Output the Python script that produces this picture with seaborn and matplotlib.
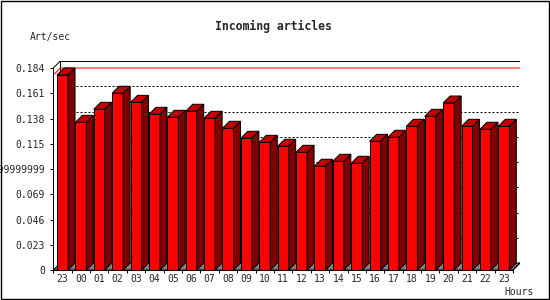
import numpy as np
import pandas as pd
import matplotlib
matplotlib.use("Agg")
import matplotlib.pyplot as plt
from matplotlib.patches import Polygon, Rectangle
import seaborn as sns

# ---- data ----
hours = ["23", "00", "01", "02", "03", "04", "05", "06", "07", "08", "09", "10",
         "11", "12", "13", "14", "15", "16", "17", "18", "19", "20", "21", "22", "23"]
values = [0.1776, 0.1345, 0.1464, 0.1610, 0.1527, 0.1418, 0.1391, 0.1446, 0.1382,
          0.1291, 0.1200, 0.1163, 0.1127, 0.1072, 0.0945, 0.0990, 0.0972, 0.1172,
          0.1209, 0.1309, 0.1400, 0.1521, 0.1309, 0.1282, 0.1309]
ytick_values = [0, 0.023, 0.046, 0.069, 0.092, 0.115, 0.138, 0.161, 0.184]
ytick_labels = ["0", "0.023", "0.046", "0.069", "0.09199999999999999",
                "0.115", "0.138", "0.161", "0.184"]
title = "Incoming articles"
ylabel = "Art/sec"
xlabel = "Hours"

sns.set_style("white")
plt.rcParams["font.family"] = ["DejaVu Sans Mono", "DejaVu Sans"]

W, H = 550, 300
fig = plt.figure(figsize=(W / 100, H / 100), dpi=100)
fig.patch.set_facecolor("white")

PX = 0.72  # 1 pixel in points
n = len(values)
ymax = ytick_values[-1]
# pixel geometry
x0_px, x1_front_px = 53.3, 513.0
ytop_front_px, ybot_px = 68.0, 270.0
depth_px = 7.0
pitch = (x1_front_px - x0_px) / n
yscale = (ybot_px - ytop_front_px) / ymax
dx = depth_px / pitch
dy = depth_px / yscale

ax = fig.add_axes([x0_px / W, (H - ybot_px) / H,
                   (x1_front_px + depth_px - x0_px) / W,
                   (ybot_px - (ytop_front_px - depth_px)) / H])
ax.set_facecolor("none")

df = pd.DataFrame({"slot": np.arange(n), "value": values})
sns.barplot(data=df, x="slot", y="value", color="#ff0000", saturation=1,
            width=0.6, edgecolor="black", linewidth=PX, ax=ax, zorder=4)
bars = list(ax.patches)

xl, xr = -0.5, n - 0.5
ax.set_xlim(xl, xr + dx)
ax.set_ylim(0, ymax + dy)

# floor
ax.add_patch(Polygon([(xl, 0), (xr, 0), (xr + dx, dy), (xl + dx, dy)],
                     closed=True, facecolor="#808080", edgecolor="black",
                     linewidth=PX, zorder=1.5))
# back grid lines
for t in ytick_values[1:-1]:
    ax.plot([xl + dx, xr + dx], [t + dy, t + dy], color="black", lw=PX,
            dashes=(2, 2), zorder=1)
# back box
ax.plot([xl + dx, xr + dx, xr + dx], [ymax + dy, ymax + dy, dy],
        color="black", lw=PX, zorder=2, solid_capstyle="butt")
ax.plot([xl + dx, xl + dx], [dy, ymax + dy], color="black", lw=PX, zorder=2)
ax.plot([xl, xl + dx], [ymax, ymax + dy], color="black", lw=PX, zorder=2)
ax.plot([xr, xr + dx], [0, dy], color="black", lw=PX, zorder=2)
# max line
vmax = max(values)
ax.plot([xl, xl + dx, xr + dx], [vmax, vmax + dy, vmax + dy], color="#ff0000",
        lw=PX, zorder=2.5)

# 3D faces of bars
for b in bars:
    x, w, h = b.get_x(), b.get_width(), b.get_height()
    side = Polygon([(x + w, 0), (x + w + dx, dy), (x + w + dx, h + dy), (x + w, h)],
                   closed=True, facecolor="#800000", edgecolor="black",
                   linewidth=PX, zorder=4)
    top = Polygon([(x, h), (x + dx, h + dy), (x + w + dx, h + dy), (x + w, h)],
                  closed=True, facecolor="#c00000", edgecolor="black",
                  linewidth=PX, zorder=4)
    ax.add_patch(side)
    ax.add_patch(top)

# axes / ticks
for s in ["top", "right"]:
    ax.spines[s].set_visible(False)
for s in ["left", "bottom"]:
    ax.spines[s].set_color("black")
    ax.spines[s].set_linewidth(PX)
    ax.spines[s].set_zorder(5)
ax.spines["left"].set_bounds(0, ymax)
ax.spines["bottom"].set_bounds(xl, xr)

ax.set_yticks(ytick_values)
ax.set_yticklabels(ytick_labels)
ax.set_xticks(np.arange(n))
ax.set_xticklabels(hours)
ax.set_xticks(np.arange(n + 1) - 0.5, minor=True)
ax.tick_params(axis="y", which="major", direction="out", length=3 * PX,
               width=PX, color="black", labelsize=7, pad=3.8, left=True)
ax.tick_params(axis="x", which="major", length=0, labelsize=7, pad=3.2,
               bottom=True)
ax.tick_params(axis="x", which="minor", direction="out", length=3 * PX,
               width=PX, color="black", bottom=True)
ax.set_xlabel("")
ax.set_ylabel("")
ax.grid(False)

fig.text(273.9 / W, 1 - 26.7 / H, title, ha="center", va="center",
         fontsize=8.3, fontweight="bold")
fig.text(30 / W, 1 - 36.7 / H, ylabel, ha="left", va="center", fontsize=7)
fig.text(504.3 / W, 1 - 291.7 / H, xlabel, ha="left", va="center", fontsize=7)

# outer border
fig.patches.append(Rectangle((0.5 / W, 1.0 / H), 548 / W, 298 / H,
                             transform=fig.transFigure, fill=False,
                             edgecolor="black", linewidth=1.4 * PX))

fig.savefig("out.png", dpi=100)
